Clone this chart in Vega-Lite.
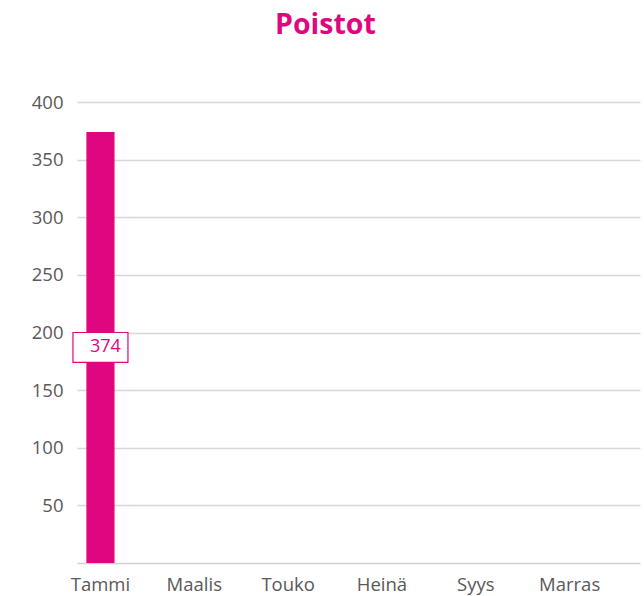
{
  "$schema": "https://vega.github.io/schema/vega-lite/v6.json",
  "autosize": {"type": "none"},
  "width": 563,
  "height": 461,
  "padding": {"left": 77, "top": 102, "right": 4, "bottom": 33},
  "background": "white",
  "config": {"view": {"stroke": null}},
  "title": {
    "text": "Poistot",
    "color": "#E0067F",
    "font": "Open Sans",
    "fontWeight": "bold",
    "fontSize": 28.5,
    "anchor": "start",
    "frame": "group",
    "dx": 198,
    "offset": 54
  },
  "data": {
    "values": [
      {"kk": "Tammi", "arvo": 374},
      {"kk": "Helmi", "arvo": null},
      {"kk": "Maalis", "arvo": null},
      {"kk": "Huhti", "arvo": null},
      {"kk": "Touko", "arvo": null},
      {"kk": "Kesä", "arvo": null},
      {"kk": "Heinä", "arvo": null},
      {"kk": "Elo", "arvo": null},
      {"kk": "Syys", "arvo": null},
      {"kk": "Loka", "arvo": null},
      {"kk": "Marras", "arvo": null},
      {"kk": "Joulu", "arvo": null}
    ]
  },
  "encoding": {
    "x": {
      "field": "kk",
      "type": "nominal",
      "sort": null,
      "scale": {
        "domain": ["Tammi", "Helmi", "Maalis", "Huhti", "Touko", "Kesä", "Heinä", "Elo", "Syys", "Loka", "Marras", "Joulu"],
        "paddingInner": 0.4,
        "paddingOuter": 0.2
      },
      "axis": {
        "title": null,
        "values": ["Tammi", "Maalis", "Touko", "Heinä", "Syys", "Marras"],
        "labelAngle": 0,
        "labelFont": "Open Sans",
        "labelFontSize": 18.5,
        "labelColor": "#595959",
        "labelPadding": 12,
        "ticks": false,
        "domainColor": "#D0D0D0",
        "domainWidth": 1.5,
        "grid": false
      }
    },
    "y": {
      "field": "arvo",
      "type": "quantitative",
      "scale": {"domain": [0, 400], "nice": false, "zero": true},
      "axis": {
        "title": null,
        "values": [50, 100, 150, 200, 250, 300, 350, 400],
        "labelFont": "Open Sans",
        "labelFontSize": 18.5,
        "labelColor": "#595959",
        "labelPadding": 14,
        "ticks": false,
        "domain": false,
        "grid": true,
        "gridColor": "#D6D6D6",
        "gridWidth": 1.5
      }
    }
  },
  "layer": [
    {
      "mark": {"type": "bar", "color": "#E0067F"}
    },
    {
      "transform": [
        {"filter": "datum.arvo != null"},
        {"calculate": "datum.arvo / 2", "as": "puoli"}
      ],
      "mark": {
        "type": "point",
        "shape": "M-1,-0.545L1,-0.545L1,0.545L-1,0.545Z",
        "size": 3025,
        "filled": false,
        "fill": "white",
        "fillOpacity": 1,
        "stroke": "#E0067F",
        "strokeOpacity": 1,
        "strokeWidth": 1.2,
        "opacity": 1
      },
      "encoding": {"y": {"field": "puoli", "type": "quantitative"}}
    },
    {
      "transform": [
        {"filter": "datum.arvo != null"},
        {"calculate": "datum.arvo / 2", "as": "puoli"}
      ],
      "mark": {
        "type": "text",
        "font": "Open Sans",
        "fontSize": 18,
        "color": "#E0067F",
        "dx": 5,
        "baseline": "middle"
      },
      "encoding": {
        "y": {"field": "puoli", "type": "quantitative"},
        "text": {"field": "arvo", "type": "quantitative"}
      }
    }
  ]
}
